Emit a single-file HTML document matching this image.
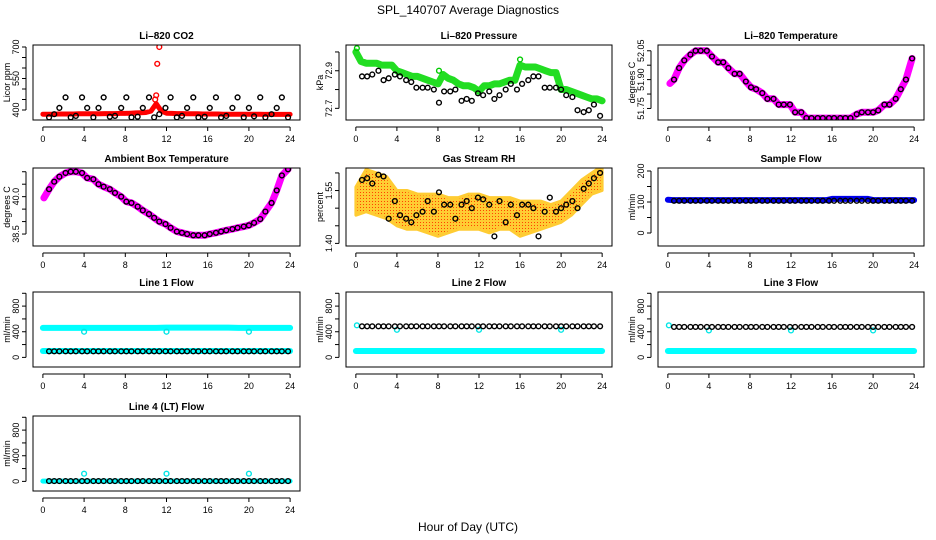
<!DOCTYPE html>
<html><head><meta charset="utf-8">
<style>
html,body{margin:0;padding:0;background:#fff;}
svg{display:block;font-family:"Liberation Sans",Arial,sans-serif;}
</style></head>
<body>
<svg id="c" width="936" height="540" viewBox="0 0 936 540">
<text x="468" y="14" text-anchor="middle" font-size="12">SPL_140707  Average Diagnostics</text>
<text x="468" y="531" text-anchor="middle" font-size="12">Hour of Day (UTC)</text>
</svg>
<script>
// ---- data ----
const xTicks = [0,4,8,12,16,20,24];
const blackHours = [0.6,1.1,1.6,2.2,2.7,3.2,3.8,4.3,4.9,5.4,5.9,6.5,7.0,7.6,8.1,8.6,9.2,9.7,10.3,10.8,11.3,11.9,12.4,13.0,13.5,14.0,14.6,15.1,15.7,16.2,16.8,17.3,17.8,18.4,18.9,19.5,20.0,20.5,21.1,21.6,22.2,22.7,23.2,23.8];
const halfHours = [0,0.5,1,1.5,2,2.5,3,3.5,4,4.5,5,5.5,6,6.5,7,7.5,8,8.5,9,9.5,10,10.5,11,11.5,12,12.5,13,13.5,14,14.5,15,15.5,16,16.5,17,17.5,18,18.5,19,19.5,20,20.5,21,21.5,22,22.5,23,23.5,24];
const hours = [0,1,2,3,4,5,6,7,8,9,10,11,12,13,14,15,16,17,18,19,20,21,22,23,24];

const co2Black = [365,380,410,460,365,372,460,410,365,410,460,368,372,410,460,365,368,410,460,365,380,410,460,365,372,410,460,365,368,410,460,365,372,410,460,365,410,370,460,365,380,410,460,365];
const co2Red = [380,380,380,381,381,381,381,382,382,382,382,382,383,383,383,384,384,385,386,387,388,395,430,395,385,384,383,383,382,382,382,381,381,381,381,380,380,380,380,380,380,380,380,379,379,379,379,379,379];
const co2RedOutHours = [10.9,11.1,11.3,11.0];
const co2RedOut = [450,620,700,470];

const presGreen = [73.00,72.95,72.94,72.94,72.94,72.93,72.93,72.93,72.90,72.89,72.88,72.87,72.87,72.86,72.85,72.84,72.83,72.88,72.86,72.85,72.83,72.82,72.82,72.81,72.79,72.82,72.82,72.83,72.83,72.84,72.85,72.85,72.93,72.92,72.92,72.92,72.91,72.90,72.89,72.89,72.80,72.80,72.79,72.78,72.77,72.76,72.75,72.75,72.74];
const presBlack = [72.87,72.87,72.88,72.90,72.85,72.86,72.88,72.87,72.85,72.84,72.81,72.81,72.81,72.80,72.73,72.79,72.79,72.80,72.74,72.75,72.74,72.78,72.77,72.79,72.75,72.77,72.80,72.83,72.80,72.83,72.85,72.87,72.87,72.81,72.81,72.81,72.80,72.77,72.76,72.69,72.68,72.69,72.72,72.66];

const licorTBlack = [51.90,51.96,52.00,52.03,52.05,52.05,52.05,52.02,51.99,51.99,51.96,51.93,51.93,51.89,51.86,51.85,51.83,51.80,51.80,51.77,51.77,51.77,51.73,51.73,51.70,51.70,51.70,51.70,51.70,51.70,51.70,51.70,51.70,51.72,51.73,51.73,51.73,51.74,51.77,51.77,51.80,51.85,51.90,52.01];

const ambBlack = [40.3,40.6,40.8,40.95,41.0,41.0,40.95,40.75,40.7,40.5,40.4,40.3,40.15,40.0,39.8,39.75,39.6,39.45,39.3,39.15,39.0,38.9,38.75,38.6,38.55,38.5,38.45,38.45,38.45,38.5,38.55,38.6,38.65,38.7,38.75,38.8,38.85,38.95,39.1,39.4,39.75,40.25,40.85,41.1];

const rhBlack = [1.58,1.585,1.57,1.595,1.59,1.47,1.52,1.48,1.47,1.46,1.48,1.49,1.52,1.49,1.545,1.51,1.51,1.47,1.51,1.52,1.50,1.53,1.525,1.51,1.42,1.52,1.46,1.51,1.48,1.51,1.51,1.50,1.42,1.49,1.53,1.49,1.50,1.51,1.52,1.50,1.555,1.57,1.585,1.60];
const rhUpper = [1.56,1.61,1.60,1.59,1.55,1.55,1.54,1.54,1.54,1.53,1.53,1.54,1.54,1.53,1.53,1.53,1.52,1.52,1.52,1.51,1.52,1.55,1.58,1.60,1.62];
const rhLower = [1.48,1.49,1.48,1.47,1.45,1.44,1.44,1.43,1.42,1.43,1.44,1.44,1.44,1.43,1.44,1.44,1.42,1.43,1.44,1.45,1.46,1.48,1.51,1.54,1.55];

const sampleBlue = [107,106,106,106,106,106,106,106,106,106,106,106,106,106,106,106,106,106,106,106,106,106,106,106,106,106,106,106,106,106,106,106,110,110,110,110,110,110,110,110,106,106,106,106,106,106,106,106,106];
const sampleBlack = [104,104,104,104,104,104,104,104,104,104,104,104,104,104,104,104,104,104,104,104,104,104,104,104,104,104,104,104,104,104,104,104,104,104,104,104,104,104,104,104,104,104,104,104];

const l1CyanHi = [460,460,460,460,460,460,460,460,460,460,460,460,465,465,465,465,465,465,465,460,460,460,460,460,460];
const l1CyanLo = [100,100,100,100,100,100,100,100,100,100,100,100,100,100,100,100,100,100,100,100,100,100,100,100,100];
const l1Black = [95,95,95,95,95,95,95,95,95,95,95,95,95,95,95,95,95,95,95,95,95,95,95,95,95,95,95,95,95,95,95,95,95,95,95,95,95,95,95,95,95,95,95,95];
const cyanOutHours = [4,12,20];
const l1CyanOut = [400,400,400];

const l2CyanLo = [100,100,100,100,100,100,100,100,100,100,100,100,100,100,100,100,100,100,100,100,100,100,100,100,100];
const l2Black = [485,485,485,485,485,485,485,485,485,485,485,485,485,485,485,485,485,485,485,485,485,485,485,485,485,485,485,485,485,485,485,485,485,485,485,485,485,485,485,485,485,485,485,485];
const l2CyanOut = [430,430,430];
const l3Black = [475,475,475,475,475,475,475,475,475,475,475,475,475,475,475,475,475,475,475,475,475,475,475,475,475,475,475,475,475,475,475,475,475,475,475,475,475,475,475,475,475,475,475,475];
const l3CyanOut = [420,420,420];
const l4Black = [5,5,5,5,5,5,5,5,5,5,5,5,5,5,5,5,5,5,5,5,5,5,5,5,5,5,5,5,5,5,5,5,5,5,5,5,5,5,5,5,5,5,5,5];
const l4Cyan = [5,5,5,5,5,5,5,5,5,5,5,5,5,5,5,5,5,5,5,5,5,5,5,5,5];
const l4CyanOut = [120,120,120];

// ---- rendering ----
const svg = document.getElementById('c');
const NS = 'http://www.w3.org/2000/svg';
function mk(tag, attrs, parent){const e=document.createElementNS(NS,tag);for(const k in attrs)e.setAttribute(k,attrs[k]);(parent||svg).appendChild(e);return e;}

const cols=[[33,300],[346,612],[658,924]];
const rows=[[45,120],[168,246],[292,367],[416,491]];

function panel(name,title,ylab,c,r,ymin,ymax,yt,ylabels){
  const g=mk('g',{});
  
  
  const [x0,x1]=cols[c],[y0,y1]=rows[r];
  const sx=v=>x0+(v+0.96)/25.92*(x1-x0);
  const sy=v=>y1-(v-ymin)/(ymax-ymin)*(y1-y0);
  const clip='cl'+name;
  const cp=mk('clipPath',{id:clip},g);mk('rect',{x:x0,y:y0,width:x1-x0,height:y1-y0},cp);
  const data=mk('g',{'clip-path':'url(#'+clip+')'},g);
  const box=mk('rect',{x:x0,y:y0,width:x1-x0,height:y1-y0,fill:'none',stroke:'#000','stroke-width':1},g);
  
  
  const t=mk('text',{x:(x0+x1)/2,y:y0-6,'text-anchor':'middle','font-size':10,'font-weight':'bold'},g);t.textContent=title;
  
  
  const yl=mk('text',{x:0,y:0,'text-anchor':'middle','font-size':9,transform:`translate(${x0-23},${(y0+y1)/2}) rotate(-90)`},g);yl.textContent=ylab;
  
  
  mk('line',{x1:sx(0),x2:sx(24),y1:y1+7,y2:y1+7,stroke:'#000'},g);
  xTicks.forEach(v=>{
    mk('line',{x1:sx(v),x2:sx(v),y1:y1+7,y2:y1+11,stroke:'#000'},g);
    const tx=mk('text',{x:sx(v),y:y1+22,'text-anchor':'middle','font-size':9},g);tx.textContent=v;
    
    
  });
  mk('line',{x1:x0-7,x2:x0-7,y1:sy(yt[0]),y2:sy(yt[yt.length-1]),stroke:'#000'},g);
  yt.forEach((v,i)=>{
    mk('line',{x1:x0-11,x2:x0-7,y1:sy(v),y2:sy(v),stroke:'#000'},g);
    if(ylabels[i]!==''){
      const ty=mk('text',{x:0,y:0,'text-anchor':'middle','font-size':9,transform:`translate(${x0-14},${sy(v)}) rotate(-90)`},g);ty.textContent=ylabels[i];
      
      
    }
  });
  return {g:data,sx,sy};
}
function band(p,xs,ys,color,w,name){
  const d=xs.map((x,i)=>(i?'L':'M')+p.sx(x).toFixed(1)+','+p.sy(ys[i]).toFixed(1)).join('');
  const e=mk('path',{d,fill:'none',stroke:color,'stroke-width':w,'stroke-linecap':'round','stroke-linejoin':'round'},p.g);
  
  
}
function pts(p,xs,ys,color,name,r){
  const n=Math.min(xs.length,ys.length);
  for(let i=0;i<n;i++){
    const e=mk('circle',{cx:p.sx(xs[i]),cy:p.sy(ys[i]),r:r||2.4,fill:'none',stroke:color,'stroke-width':1.4},p.g);
    
    
  }
}

let p=panel('co2-panel','Li–820 CO2','Licor ppm',0,0,352.4,709.5,[400,450,500,550,600,650,700],['400','','','550','','','700']);
band(p,halfHours,co2Red,'#ff0000',5,'co2-red-series');
pts(p,co2RedOutHours,co2RedOut,'#ff0000','co2-red-outlier');
pts(p,blackHours,co2Black,'#000','co2-black-point');

p=panel('pressure-panel','Li–820 Pressure','kPa',1,0,72.638,73.037,[72.7,72.8,72.9,73.0],['72.7','','72.9','']);
band(p,halfHours,presGreen,'#22dd22',7,'pressure-green-series');
pts(p,[0.1,16.0,8.1],[73.02,72.96,72.90],'#00cc00','pressure-green-point');
pts(p,blackHours,presBlack,'#000','pressure-black-point');

p=panel('licor-temp-panel','Li–820 Temperature','degrees C',2,0,51.69,52.08,[51.75,51.825,51.90,51.975,52.05],['51.75','','51.90','','52.05']);
band(p,[0.2].concat(blackHours),[51.88].concat(licorTBlack),'#ff00ff',7,'licor-temp-magenta-series');
pts(p,blackHours,licorTBlack,'#000','licor-temp-black-point');

p=panel('ambient-temp-panel','Ambient Box Temperature','degrees C',0,1,38.02,41.15,[38.5,39.0,39.5,40.0,40.5,41.0],['38.5','','','40.0','','']);
band(p,[0.1].concat(blackHours),[39.95].concat(ambBlack),'#ff00ff',7,'ambient-magenta-series');
pts(p,blackHours,ambBlack,'#000','ambient-black-point');

p=panel('rh-panel','Gas Stream RH','percent',1,1,1.3926,1.614,[1.40,1.45,1.50,1.55,1.60],['1.40','','','1.55','']);
(function(){
  const d=hours.map((x,i)=>(i?'L':'M')+p.sx(x).toFixed(1)+','+p.sy(rhUpper[i]).toFixed(1)).join('')+
    hours.slice().reverse().map((x,j)=>{const i=hours.length-1-j;return 'L'+p.sx(x).toFixed(1)+','+p.sy(rhLower[i]).toFixed(1);}).join('')+'Z';
  const pat=mk('pattern',{id:'rhpat',width:3,height:3,patternUnits:'userSpaceOnUse'},svg);
  mk('rect',{width:3,height:3,fill:'#ffcc33'},pat);mk('rect',{width:1,height:1,fill:'#ff4400'},pat);
  const e=mk('path',{d,fill:'url(#rhpat)',stroke:'#ffcc33','stroke-width':3,'stroke-linejoin':'round'},p.g);
  
  
})();
pts(p,blackHours,rhBlack,'#000','rh-black-point');

p=panel('sample-flow-panel','Sample Flow','ml/min',2,1,-41.9,209.7,[0,50,100,150,200],['0','','100','','200']);
band(p,halfHours,sampleBlue,'#0000ee',6,'sample-flow-blue-series');
pts(p,blackHours,sampleBlack,'#000','sample-flow-black-point');

const fT=[0,200,400,600,800,1000], fL=['0','','400','','800',''];
p=panel('line1-flow-panel','Line 1 Flow','ml/min',0,2,-150,1020,fT,fL);
band(p,hours,l1CyanHi,'#00ffff',6,'line1-cyan-high');
band(p,hours,l1CyanLo,'#00ffff',6,'line1-cyan-low');
pts(p,cyanOutHours,l1CyanOut,'#00e5e5','line1-cyan-outlier');
pts(p,blackHours,l1Black,'#000','line1-black-point');
p=panel('line2-flow-panel','Line 2 Flow','ml/min',1,2,-150,1020,fT,fL);
band(p,hours,l2CyanLo,'#00ffff',6,'line2-cyan-low');
pts(p,[0.1],[500],'#00e5e5','line2-cyan-start');
pts(p,cyanOutHours,l2CyanOut,'#00e5e5','line2-cyan-outlier');
pts(p,blackHours,l2Black,'#000','line2-black-point');
p=panel('line3-flow-panel','Line 3 Flow','ml/min',2,2,-150,1020,fT,fL);
band(p,hours,l2CyanLo,'#00ffff',6,'line3-cyan-low');
pts(p,[0.1],[500],'#00e5e5','line3-cyan-start');
pts(p,cyanOutHours,l3CyanOut,'#00e5e5','line3-cyan-outlier');
pts(p,blackHours,l3Black,'#000','line3-black-point');
p=panel('line4-flow-panel','Line 4 (LT) Flow','ml/min',0,3,-150,1020,fT,fL);
band(p,hours,l4Cyan,'#00ffff',5,'line4-cyan-series');
pts(p,cyanOutHours,l4CyanOut,'#00e5e5','line4-cyan-outlier');
pts(p,blackHours,l4Black,'#000','line4-black-point');
</script>
</body></html>
